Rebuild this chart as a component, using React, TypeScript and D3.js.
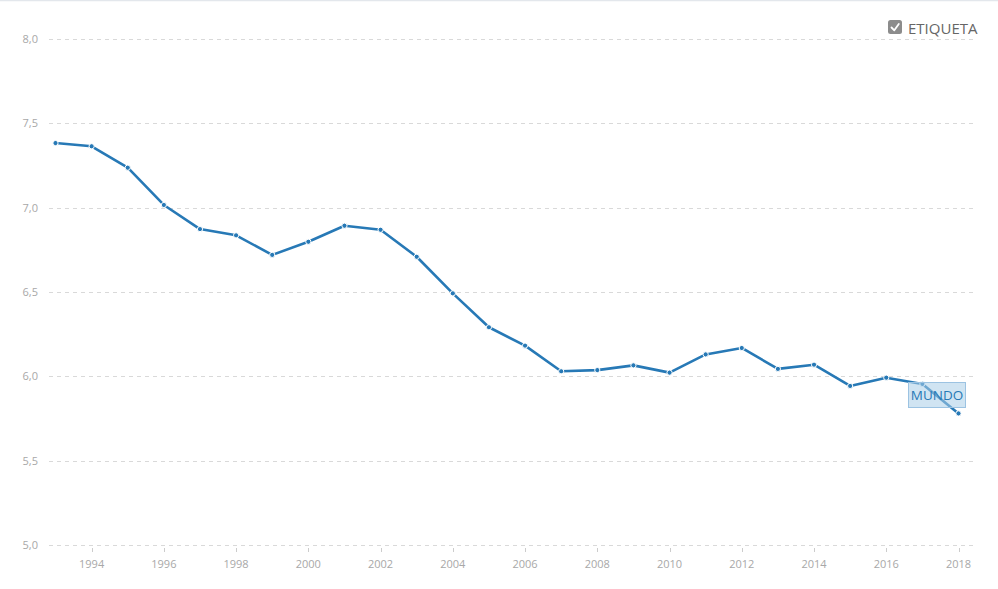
import { useEffect, useRef } from 'react';
import * as d3 from 'd3';

const YEARS: number[] = [
  1993, 1994, 1995, 1996, 1997, 1998, 1999, 2000, 2001, 2002, 2003, 2004, 2005,
  2006, 2007, 2008, 2009, 2010, 2011, 2012, 2013, 2014, 2015, 2016, 2017, 2018,
];

const MUNDO: number[] = [
  7.383, 7.364, 7.237, 7.016, 6.873, 6.836, 6.72, 6.798, 6.893, 6.869, 6.709,
  6.492, 6.291, 6.182, 6.03, 6.037, 6.065, 6.022, 6.13, 6.168, 6.044, 6.069,
  5.943, 5.992, 5.955, 5.78,
];

const Y_TICKS: number[] = [5.0, 5.5, 6.0, 6.5, 7.0, 7.5, 8.0];
const X_TICKS: number[] = [1994, 1996, 1998, 2000, 2002, 2004, 2006, 2008, 2010, 2012, 2014, 2016, 2018];

const SERIES_LABEL = 'MUNDO';
const LEGEND_LABEL = 'ETIQUETA';

const WIDTH = 998;
const HEIGHT = 589;
const FONT = '"Open Sans", "Noto Sans", sans-serif';
const BLUE = '#2779b6';

export default function App() {
  const svgRef = useRef<SVGSVGElement>(null);

  useEffect(() => {
    if (!svgRef.current) return;
    const svg = d3.select(svgRef.current);
    svg.selectAll('*').remove();

    const x = d3.scaleLinear().domain([1993, 2018]).range([55.5, 958.5]);
    const y = d3.scaleLinear().domain([5, 8]).range([545, 39]);

    // top border
    svg.append('line')
      .attr('x1', 0).attr('x2', WIDTH)
      .attr('y1', 0.5).attr('y2', 0.5)
      .attr('stroke', '#e3e7ec')
      .attr('stroke-width', 1.5);

    // grid lines + y labels
    const yAxis = svg.append('g');
    Y_TICKS.forEach((t) => {
      yAxis.append('line')
        .attr('x1', 49).attr('x2', 976)
        .attr('y1', Math.round(y(t)) + 0.5).attr('y2', Math.round(y(t)) + 0.5)
        .attr('stroke', '#d9d9d9')
        .attr('stroke-dasharray', '4,4');
      yAxis.append('text')
        .attr('x', 38)
        .attr('y', y(t) + 4)
        .attr('text-anchor', 'end')
        .style('font-family', FONT)
        .style('font-size', '11px')
        .style('fill', '#a8a8a8')
        .text(d3.format('.1f')(t).replace('.', ','));
    });

    // x ticks
    const xAxis = svg.append('g');
    X_TICKS.forEach((t) => {
      xAxis.append('line')
        .attr('x1', Math.round(x(t)) + 0.5).attr('x2', Math.round(x(t)) + 0.5)
        .attr('y1', 548).attr('y2', 552)
        .attr('stroke', '#cccccc');
      xAxis.append('text')
        .attr('x', x(t))
        .attr('y', 568)
        .attr('text-anchor', 'middle')
        .style('font-family', FONT)
        .style('font-size', '11px')
        .style('fill', '#a8a8a8')
        .text(String(t));
    });

    const data = YEARS.map((yr, i) => ({ year: yr, value: MUNDO[i] }));

    const line = d3.line<{ year: number; value: number }>()
      .x((d) => x(d.year))
      .y((d) => y(d.value));

    svg.append('path')
      .datum(data)
      .attr('fill', 'none')
      .attr('stroke', BLUE)
      .attr('stroke-width', 2.6)
      .attr('stroke-linejoin', 'round')
      .attr('d', line);

    svg.append('g')
      .selectAll('circle')
      .data(data)
      .enter()
      .append('circle')
      .attr('cx', (d) => x(d.year))
      .attr('cy', (d) => y(d.value))
      .attr('r', 2.6)
      .attr('fill', BLUE)
      .attr('stroke', '#ffffff')
      .attr('stroke-width', 1);

    // series label near the end
    const lbl = svg.append('g');
    lbl.append('rect')
      .attr('x', 908.5).attr('y', 382.5)
      .attr('width', 57).attr('height', 25)
      .attr('fill', 'rgba(170, 205, 232, 0.55)')
      .attr('stroke', '#9cc3e2')
      .attr('stroke-width', 1);
    lbl.append('text')
      .attr('x', 937)
      .attr('y', 400)
      .attr('text-anchor', 'middle')
      .style('font-family', FONT)
      .style('font-size', '13.5px')
      .style('fill', BLUE)
      .text(SERIES_LABEL);

    // legend checkbox
    const lg = svg.append('g');
    lg.append('rect')
      .attr('x', 888).attr('y', 20)
      .attr('width', 14).attr('height', 14)
      .attr('rx', 2.5)
      .attr('fill', '#8c8c8c');
    lg.append('path')
      .attr('d', 'M891.5,27.5 L894.3,30.3 L898.8,24')
      .attr('fill', 'none')
      .attr('stroke', '#ffffff')
      .attr('stroke-width', 1.8)
      .attr('stroke-linecap', 'round')
      .attr('stroke-linejoin', 'round');
    lg.append('text')
      .attr('x', 908)
      .attr('y', 33.5)
      .style('font-family', FONT)
      .style('font-size', '15px')
      .style('fill', '#666666')
      .text(LEGEND_LABEL);
  }, []);

  return (
    <div style={{ position: 'fixed', left: 0, top: 0, width: WIDTH, height: HEIGHT, background: '#fff' }}>
      <svg ref={svgRef} width={WIDTH} height={HEIGHT} style={{ display: 'block' }} />
    </div>
  );
}
